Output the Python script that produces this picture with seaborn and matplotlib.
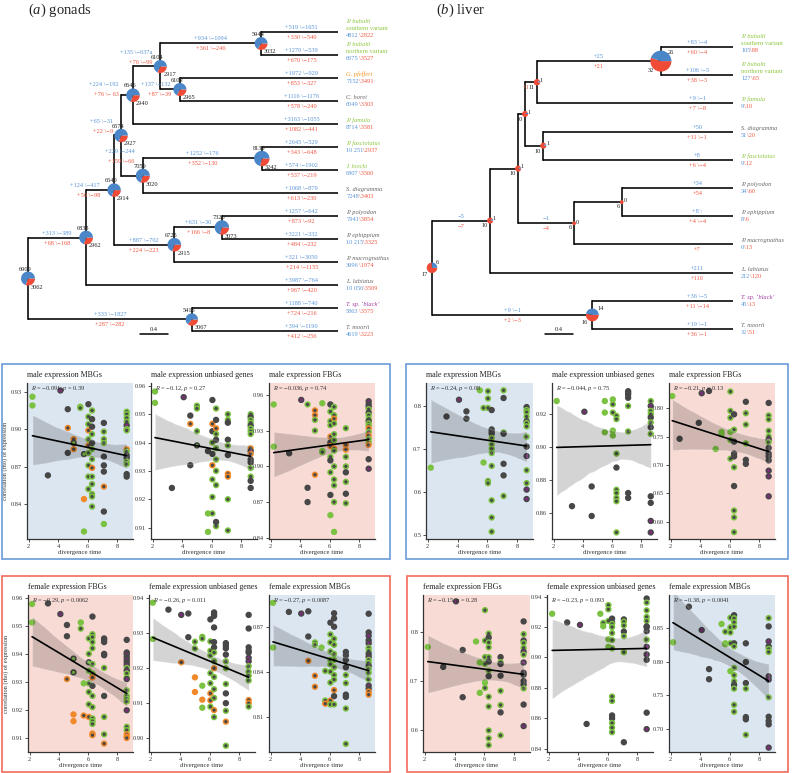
import re

import matplotlib
matplotlib.use("Agg")
import matplotlib.pyplot as plt
import pandas as pd
import seaborn as sns
from matplotlib import patches, transforms

W, H = 793, 773

# ---------------- tree data ----------------
GONAD_TIPS = ["bubS", "bubN", "pfef", "horei", "famula", "fasc", "loocki",
              "sdiag", "poly", "eph", "macro", "lab", "tblack", "tmoorii"]
GONAD_PARENT = {
    "n1": "root", "n2": "n1", "n3": "n2", "n4": "n3", "n5": "n4", "n6": "n5",
    "n7": "n5", "n8": "n3", "n9": "n8", "n10": "n2", "n11": "n10", "n12": "root",
    "bubS": "n6", "bubN": "n6", "pfef": "n7", "horei": "n7", "famula": "n4",
    "fasc": "n9", "loocki": "n9", "sdiag": "n8", "poly": "n11", "eph": "n11",
    "macro": "n10", "lab": "n1", "tblack": "n12", "tmoorii": "n12",
}
GONAD_DEPTH = {"root": 0.0, "n1": 0.83, "n2": 1.23, "n3": 1.33, "n4": 1.50,
               "n5": 1.89, "n6": 3.33, "n7": 2.17, "n8": 1.64, "n9": 3.34,
               "n10": 2.09, "n11": 2.77, "n12": 2.34}
GONAD_BLUE = {
    "n1": "+313 \\−389", "n2": "+124 \\−417", "n3": "+65 \\−31", "n4": "+224 \\−192",
    "n5": "+135 \\−637a", "n6": "+934 \\−1094", "n7": "+137 \\−132", "n8": "+229 \\−244",
    "n9": "+1252 \\−176", "n10": "+887 \\−702", "n11": "+631 \\−30", "n12": "+333 \\−1827",
    "bubS": "+519 \\−1651", "bubN": "+1270 \\−539", "pfef": "+1972 \\−929",
    "horei": "+1116 \\−1176", "famula": "+3163 \\−1055", "fasc": "+2645 \\−529",
    "loocki": "+574 \\−1902", "sdiag": "+1068 \\−879", "poly": "+1257 \\−642",
    "eph": "+3221 \\−332", "macro": "+321 \\−3050", "lab": "+3987 \\−764",
    "tblack": "+1188 \\−740", "tmoorii": "+394 \\−1190",
}
GONAD_RED = {
    "n1": "+68 \\−168", "n2": "+50 \\−98", "n3": "+22 \\−9", "n4": "+76 \\− 63",
    "n5": "+76 \\−99", "n6": "+361 \\−246", "n7": "+87 \\−39", "n8": "+159 \\−66",
    "n9": "+352 \\−130", "n10": "+224 \\−223", "n11": "+166 \\−8", "n12": "+287 \\−282",
    "bubS": "+330 \\−540", "bubN": "+670 \\−175", "pfef": "+853 \\−327",
    "horei": "+578 \\−240", "famula": "+1082 \\−441", "fasc": "+343 \\−648",
    "loocki": "+537 \\−219", "sdiag": "+613 \\−230", "poly": "+873 \\−92",
    "eph": "+484 \\−232", "macro": "+214 \\−1155", "lab": "+967 \\−420",
    "tblack": "+724 \\−216", "tmoorii": "+412 \\−256",
}
GONAD_NODE_COUNTS = {
    "root": (6909, 3062), "n1": (6833, 2962), "n2": (6540, 2914), "n3": (6574, 2927),
    "n4": (6646, 2940), "n5": (6104, 2917), "n6": (5944, 3032), "n7": (6109, 2965),
    "n8": (7059, 3020), "n9": (8135, 3242), "n10": (6725, 2915), "n11": (7326, 3073),
    "n12": (5415, 3067),
}
GONAD_TIP_COUNTS = {
    "bubS": ("4812", "2822"), "bubN": ("6675", "3527"), "pfef": ("7152", "3491"),
    "horei": ("6049", "3303"), "famula": ("8714", "3581"), "fasc": ("10 251", "2937"),
    "loocki": ("6807", "3560"), "sdiag": ("7248", "3403"), "poly": ("7941", "3854"),
    "eph": ("10 215", "3325"), "macro": ("3996", "1974"), "lab": ("10 056", "3509"),
    "tblack": ("5863", "3575"), "tmoorii": ("4619", "3223"),
}
# label nudges (pixels) for crowded short branches
GONAD_LABEL_SHIFT = {"n2": (-14, 0), "n3": (-8, 9), "n4": (-14, 6), "n5": (-8, 9),
                     "n7": (-9, 0), "n8": (-8, 20)}

LIVER_TIPS = ["bubS", "bubN", "famula", "sdiag", "fasc", "poly", "eph",
              "macro", "lab", "tblack", "tmoorii"]
LIVER_PARENT = {
    "m1": "root", "m2": "m1", "m3": "m2", "m4": "m3", "m5": "m4", "m6": "m3",
    "m7": "m2", "m8": "m7", "m9": "root",
    "bubS": "m5", "bubN": "m5", "famula": "m4", "sdiag": "m6", "fasc": "m6",
    "poly": "m8", "eph": "m8", "macro": "m7", "lab": "m1", "tblack": "m9", "tmoorii": "m9",
}
LIVER_DEPTH = {"root": 0.0, "m1": 0.83, "m2": 1.23, "m3": 1.33, "m4": 1.50,
               "m5": 3.27, "m6": 1.59, "m7": 2.03, "m8": 2.71, "m9": 2.29}
LIVER_BLUE = {
    "m1": "−5", "m5": "+25", "m7": "−1", "m9": "+9 \\−1",
    "bubS": "+83 \\−4", "bubN": "+106 \\−5", "famula": "+9 \\−1", "sdiag": "+50",
    "fasc": "+8", "poly": "+34", "eph": "+8 \\", "lab": "+211",
    "tblack": "+36 \\−5", "tmoorii": "+19 \\−1",
}
LIVER_RED = {
    "m1": "−7", "m4": "+1", "m5": "+21", "m7": "−4", "m9": "+2 \\−3",
    "bubS": "+60 \\−4", "bubN": "+38 \\−3", "famula": "+7 \\−8", "sdiag": "+11 \\−1",
    "fasc": "+6 \\−4", "poly": "+54", "eph": "+4 \\−4", "macro": "+7", "lab": "+110",
    "tblack": "+11 \\−14", "tmoorii": "+36 \\−1",
}
LIVER_NODE_COUNTS = {
    "root": (6, 17), "m1": (1, 10), "m2": (1, 10), "m3": (1, 10), "m4": (1, 11),
    "m5": (26, 32), "m6": (1, 10), "m7": (0, 6), "m8": (0, 6), "m9": (14, 16),
}
LIVER_TIP_COUNTS = {
    "bubS": ("105", "88"), "bubN": ("127", "65"), "famula": ("9", "10"),
    "sdiag": ("51", "20"), "fasc": ("9", "12"), "poly": ("34", "60"), "eph": ("8", "6"),
    "macro": ("0", "13"), "lab": ("212", "120"), "tblack": ("45", "13"),
    "tmoorii": ("32", "51"),
}
LIVER_LABEL_SHIFT = {}

SPECIES = {
    "bubS": ("P. bubalti", "southern variant", "green"),
    "bubN": ("P. bubalti", "northern variant", "green"),
    "pfef": ("G. pfefferi", "", "orange"),
    "horei": ("C. horei", "", "grey"),
    "famula": ("P. famula", "", "green"),
    "fasc": ("P. fasciolatus", "", "green"),
    "loocki": ("I. loocki", "", "green"),
    "sdiag": ("S. diagramma", "", "grey"),
    "poly": ("P. polyodon", "", "grey"),
    "eph": ("P. ephippium", "", "grey"),
    "macro": ("P. macrognathus", "", "grey"),
    "lab": ("L. labiatus", "", "grey"),
    "tblack": ("T. sp. ‘black’", "", "purple"),
    "tmoorii": ("T. moorii", "", "grey"),
}

# ---------------- scatter data: "x: y+code ..." ----------------
GM_MBG = """
2.25: .926g .919g; 3.3: .863k; 4.15: .931p; 4.65: .916k .901O .881k;
5.05: .892O .889K .884O; 5.5: .918G .917G; 5.75: .880K .844o .818g;
6.05: .920k .910G .904G .899O .892G .887O .881G .871G .862G .852G;
6.3: .915G .908k .902k .896G .889k .884G .876G .869O .862G .856G .848G .846G .838G;
7.1: .905k .898G .892G .889G .878k .871k .866k .854O .834k .824g;
8.65: .914G .912G .909G .906G .903p .900P .899G .884O .882G .879k .877k .874G .872G .864k .862k
"""
GM_UNB = """
2.15: .958g .954g; 3.3: .924k; 4.1: .956p; 4.55: .9495k .9466O .932k;
5.0: .953G .952G .944G .939K; 5.75: .937k .9085g .915g;
6.05: .955k .9466O .944k .940G .936k .932O .927G .9208G .915G;
6.3: .952G .948k .945O .943G .941k .938G .934G .930G .925G .9105G .912k;
7.1: .950G .948G .947k .941k .939G .9356k .929O .928O .920G .909G;
8.65: .950G .949k .948G .947G .946k .945G .944G .943G .938O .937p .936O .934k .933k .931G .928G .9265k .924k
"""
GM_FBG = """
2.2: .952g .9166g; 3.25: .911k; 4.07: .9558p; 4.5: .952G .882k .870k;
5.0: .947O .943O .939G .930G .893O; 5.5: .953g .913G .912G;
6.05: .952k .946G .938G .9345G .925O .92k .917O .908G .905k .895G .876k .859g;
6.3: .950G .943G .940O .936G .927G .922G .915O .913G .900G .889G .884G .870G .845g;
7.1: .932G .918O .914O .908G .900G .895k .887G .877k .869G;
8.65: .9547p .952k .950p .948G .945k .943G .940G .938k .936G .934G .932O .929G .926O .923G .920G .918O .906k .898p
"""
LM_MBG = """
2.2: .656g; 3.26: .775k; 4.1: .814p; 4.6: .787k .770k; 5.5: .836g; 5.75: .795G .668g;
6.05: .834G .817G .795G .625G .62G;
6.3: .79k .745k .74k .735k .725G .71G .70G .69G .66G .58G .54G .507G;
7.1: .836G .818k .738G .735k .665k .638k .59G;
8.65: .797k .790G .785G .775G .764p .76G .752G .728G .705k .683p .65G .62G .605p .583p
"""
LM_UNB = """
2.2: .928g; 3.25: .864k; 4.1: .9215p; 4.6: .876k .858k; 5.5: .928g .921g .909g;
6.05: .929g .926G .921G .910g .907g;
6.3: .919G .917G .896G .8875k .874G .872G .869G .867G .848G;
7.1: .934k .933k .932k .930k .925G .9095G .872k .869k;
8.65: .928G .925p .922G .920G .918k .915G .912k .908G .870k .866k .855p .848p
"""
LM_FBG = """
2.1: .821g; 2.6: .746k; 3.9: .774k; 4.1: .826p; 4.6: .83k; 5.05: .728g; 5.45: .758g .754g;
6.05: .829G .795G .783G .758g .744G .711G;
6.3: .789k .762G .741k .72k .715k .696G .663k .62G .608G .582G;
7.1: .811k .791G .771G .738G .709k .702k;
8.65: .809k .787G .78G .76G .75G .745p .74G .73k .72k .715k .708k .69p .68p .645p
"""
GF_FBG = """
2.16: .9578g .9512g; 3.25: .958k; 4.1: .9542p; 4.55: .9503k .9463k .931O;
5.0: .9383K .9334K .9184o .916o; 5.5: .9512g .949G; 5.7: .9295g .918O;
6.05: .9455G .940G .937K .934G .9295G .9264G .922G .9175O;
6.3: .9533k .947G .946G .9442G .942G .9364G .933G .9316O .9286k .925G .921G .917G .916G .915G .9116O .911O;
7.1: .9455k .945k .9442k .940k .9395k .935G .925k .9175G .9113G .908O;
8.65: .945k .9405k .940p .939k .938p .937k .936p .935G .934p .933G .9315G .931p .927G .925G .924G .923G .9199p .914G .9128G .9113O .9105O .910O
"""
GF_UNB = """
2.14: .9388g .9284g; 3.2: .9368k; 4.07: .9353p .9217O; 4.55: .9357k .9289k;
5.0: .9276G .9257G .9174o .9132o; 5.5: .929G .9285G .915g .911o .9087g;
6.05: .934k .9277G .925G .9237G .9186G .9157G .9128O .9108O .909G;
6.3: .936k .9355k .935k .9317k .9275k .926k .9245G .922G .920O .9175G .914G .9115G .908O .906G;
7.1: .9272k .9265k .9257k .9239k .922G .920G .9155G .9128k .910k .9078G .9047O .8978G;
8.65: .9353k .9314k .926k .925k .9245k .923p .922p .9206G .919G .9179G .9165G .9109O .910O .909G
"""
GF_MBG = """
2.15: .8858g .8562g; 3.23: .8798k; 4.07: .8787p; 4.55: .8802k .8635k .8474O;
5.0: .8596G .858G .8375O .8302O; 5.45: .8562g; 5.7: .8407G .8211G .8190O;
6.05: .8727k .8649G .8596G .8536G .8480G .8451G .8402G .8330G .8211O .8185G;
6.3: .8789k .8755k .8700k .8620G .8580G .8520G .8480G .8430G .8380G .8350G .8280O .8240k .8185G;
7.1: .8533k .8510k .8480k .8431k .8380G .8326G .825k .8235k .8158G .7924G;
8.65: .8786k .8662k .8640p .8610k .8590p .8560G .8540G .8520k .8500p .8480G .8460G .8440k .8420G .8395G .8350G .8310p .8290k .8270O .8250O
"""
LF_FBG = """
2.2: .7697g; 3.24: .729k; 4.1: .863p; 4.55: .7636k .667k; 5.45: .781g; 5.7: .738g .676g;
6.05: .845G .7826G .749G .735G .697g .686G;
6.3: .797G .789k .779G .769G .749G .74k .721G .71k .668G .648G .599G .583G .569G;
7.1: .749k .7386G .735k .711k .68G .651G .636k .589G;
8.65: .822k .796G .783k .778G .768G .76p .754G .738p .717p .713k .70k .693k .685G .652k .608p
"""
LF_UNB = """
2.23: .9287g; 3.25: .923k; 4.12: .9214p; 4.57: .8564k; 5.5: .9287g; 5.7: .9227G .9205g;
6.05: .9344G .9316G .9240G .912g .907g;
6.3: .9255k .923k .922G .920G .916G .9115G .906G .8744G .8715G .862k .86k .857G .854G .851G;
7.1: .925k .9235G .921G .917k .914G .9035G .8444k;
8.65: .9387k .9360G .9309G .9266G .924G .9204k .920k .9173k .9117G .907p .902p .8985k .8638k .853p
"""
LF_MBG = """
2.15: .8288g; 3.23: .8816k; 4.1: .847p; 4.6: .789k .774k; 5.45: .856g; 5.7: .8445G .8273g .826g;
6.05: .8653G .851G .8433G .8273G .786g;
6.3: .869k .8645G .8585G .852G .8273k .8228G .7908G .780G .771G .7656k .760G .736G .7258G;
7.1: .8273k .7995k .7683k .760G .7178k .7145k .6915G;
8.65: .8648G .8524k .8302p .8228k .819G .8144G .7783p .7734p .747G .7183k .7119k .707k .6725p
"""

MALE_TITLES = ["male expression MBGs", "male expression unbiased genes", "male expression FBGs"]
FEMALE_TITLES = ["female expression FBGs", "female expression unbiased genes", "female expression MBGs"]
GM_R = ["−0.091, $p$ = 0.39", "−0.12, $p$ = 0.27", "−0.036, $p$ = 0.74"]
LM_R = ["−0.24, $p$ = 0.08", "−0.044, $p$ = 0.75", "−0.21, $p$ = 0.13"]
GF_R = ["−0.29, $p$ = 0.0062", "−0.26, $p$ = 0.011", "−0.27, $p$ = 0.0087"]
LF_R = ["−0.15, $p$ = 0.28", "−0.23, $p$ = 0.093", "−0.38, $p$ = 0.0041"]

GM_TICKS = [[0.84, 0.87, 0.90, 0.93], [0.91, 0.92, 0.93, 0.94, 0.95, 0.96], [0.84, 0.87, 0.90, 0.93, 0.96]]
GM_LIM = [(0.812, 0.937), (0.906, 0.961), (0.839, 0.970)]
LM_TICKS = [[0.5, 0.6, 0.7, 0.8], [0.86, 0.88, 0.90, 0.92], [0.60, 0.65, 0.70, 0.75, 0.80]]
LM_LIM = [(0.49, 0.853), (0.844, 0.939), (0.57, 0.844)]
GF_TICKS = [[0.91, 0.92, 0.93, 0.94, 0.95, 0.96], [0.90, 0.91, 0.92, 0.93, 0.94], [0.81, 0.84, 0.87]]
GF_LIM = [(0.905, 0.961), (0.896, 0.941), (0.787, 0.891)]
LF_TICKS = [[0.6, 0.7, 0.8], [0.84, 0.86, 0.88, 0.90, 0.92, 0.94], [0.70, 0.75, 0.80, 0.85]]
LF_LIM = [(0.555, 0.876), (0.838, 0.941), (0.666, 0.899)]

# ---------------- style ----------------
COL = {"g": "#7cc242", "k": "#474747", "o": "#f0892a", "p": "#7a2d78"}
FACE = {"g": "g", "k": "k", "G": "k", "o": "o", "O": "k", "p": "p", "P": "p", "K": "g"}
EDGE = {"g": "g", "k": "k", "G": "g", "o": "o", "O": "o", "p": "k", "P": "g", "K": "k"}
SHADE = {"blue": "#dce6f1", "white": "white", "red": "#f9dbd6"}
TXT_BLUE, TXT_RED = "#5b96d8", "#f15a45"
PIE_BLUE, PIE_RED = "#4a86c8", "#ef4b37"
SP_COL = {"green": "#8dc63f", "orange": "#f7941d", "grey": "#666666", "purple": "#a03ca0"}
FS = 4.6

sns.set_theme(style="ticks")
plt.rcParams["font.family"] = ["Liberation Serif", "DejaVu Serif"]
plt.rcParams["mathtext.fontset"] = "custom"
plt.rcParams["mathtext.rm"] = "Liberation Serif"
plt.rcParams["mathtext.it"] = "Liberation Serif:italic"

fig = plt.figure(figsize=(W / 100, H / 100), dpi=100)


def px_axes(l, t, r, b):
    return fig.add_axes([l / W, 1 - b / H, (r - l) / W, (b - t) / H])


def parse(s):
    rows = []
    for col in s.split(";"):
        if not col.strip():
            continue
        x, ys = col.split(":")
        for v, c in re.findall(r"([\d.]+)([a-zA-Z])", ys):
            rows.append((float(x), float(v), FACE[c], EDGE[c]))
    return pd.DataFrame(rows, columns=["x", "y", "fill", "edge"])


def draw_tree(ax, tips, parent, depth, tip_depth, blue, red, node_counts, tip_counts,
              pie_c, tip_lab_d, gonad_style, shifts):
    depth = dict(depth)
    for t in tips:
        depth[t] = tip_depth
    ypos = {t: i for i, t in enumerate(tips)}
    children = {}
    for c, p in parent.items():
        children.setdefault(p, []).append(c)

    def gety(n):
        if n not in ypos:
            ys = [gety(c) for c in children[n]]
            ypos[n] = (min(ys) + max(ys)) / 2
        return ypos[n]

    gety("root")
    lw = 1.15
    for c, p in parent.items():
        ax.plot([depth[p], depth[c]], [ypos[c]] * 2, color="black", lw=lw, solid_capstyle="butt")
    for n, ch in children.items():
        ys = [ypos[c] for c in ch]
        ax.plot([depth[n]] * 2, [min(ys), max(ys)], color="black", lw=lw, solid_capstyle="projecting")
    for c, p in parent.items():
        lift = 0
        if c in tips:
            xl, ha, dx = tip_lab_d, "center", 0
        elif depth[c] - depth[p] > 0.45:
            xl, ha, dx = (depth[c] + depth[p]) / 2, "center", 0
        else:
            xl, ha, dx = depth[c], "right", -8
        if c in shifts:
            dx, lift = shifts[c]
        if c in blue:
            ax.annotate(blue[c], (xl, ypos[c]), xytext=(dx, 2 + lift), textcoords="offset pixels",
                        ha=ha, va="bottom", color=TXT_BLUE, fontsize=FS)
        if c in red:
            ax.annotate(red[c], (xl, ypos[c]), xytext=(dx, -3 + lift), textcoords="offset pixels",
                        ha=ha, va="top", color=TXT_RED, fontsize=FS)
    for n, (b, r) in node_counts.items():
        x, y = depth[n], ypos[n]
        tot = b + r
        rad = pie_c * tot ** 0.75
        tr = fig.dpi_scale_trans + transforms.ScaledTranslation(x, y, ax.transData)
        fr = r / tot
        R = rad / fig.dpi
        if r:
            ax.add_patch(patches.Wedge((0, 0), R, -360 * fr, 0, transform=tr, color=PIE_RED, lw=0, zorder=4))
        if b:
            ax.add_patch(patches.Wedge((0, 0), R, 0, 360 - 360 * fr, transform=tr, color=PIE_BLUE, lw=0, zorder=4))
        if gonad_style:
            ax.annotate(str(b), (x, y), xytext=(-3, rad), textcoords="offset pixels",
                        ha="center", va="bottom", fontsize=FS, color="#222")
            ax.annotate(str(r), (x, y), xytext=(3, -rad + 1), textcoords="offset pixels",
                        ha="left", va="top", fontsize=FS, color="#222")
        else:
            ax.annotate(str(b), (x, y), xytext=(rad * 0.6 + 1, rad * 0.6), textcoords="offset pixels",
                        ha="left", va="bottom" if rad > 4 else "center", fontsize=FS, color="#222")
            ax.annotate(str(r), (x, y), xytext=(-rad * 0.6 - 1, -rad * 0.6 - 1), textcoords="offset pixels",
                        ha="right", va="top", fontsize=FS, color="#222")
    for t in tips:
        name, var, cname = SPECIES[t]
        c = SP_COL[cname]
        x, y = tip_depth, ypos[t]
        if var:
            ax.annotate(name, (x, y), xytext=(8, 8), textcoords="offset pixels", ha="left", va="bottom",
                        fontsize=FS, color=c, style="italic")
            ax.annotate(var, (x, y), xytext=(8, 1), textcoords="offset pixels", ha="left", va="bottom",
                        fontsize=FS, color=c)
        else:
            ax.annotate(name, (x, y), xytext=(8, 1), textcoords="offset pixels", ha="left", va="bottom",
                        fontsize=FS, color=c, style="italic")
        b, r = tip_counts[t]
        t1 = ax.annotate(b, (x, y), xytext=(8, -1), textcoords="offset pixels", ha="left", va="top",
                         fontsize=FS, color=TXT_BLUE)
        ax.annotate("\\" + r, xy=(1, 0), xycoords=t1, ha="left", va="bottom", fontsize=FS, color=TXT_RED)
    ax.set_axis_off()


def scale_bar(ax, x0, y):
    ax.plot([x0, x0 + 0.4], [y, y], color="black", lw=1.1)
    ax.annotate("0.4", (x0 + 0.2, y), xytext=(0, 2), textcoords="offset pixels",
                ha="center", va="bottom", fontsize=FS, color="#222")


# gonads tree
ax_a = px_axes(0, 0, 400, 345)
ax_a.set_xlim(-0.4, 5.314)
ax_a.set_ylim(13.609, -1.391)
draw_tree(ax_a, GONAD_TIPS, GONAD_PARENT, GONAD_DEPTH, 4.43, GONAD_BLUE, GONAD_RED,
          GONAD_NODE_COUNTS, GONAD_TIP_COUNTS, 0.007, 3.91, True, GONAD_LABEL_SHIFT)
scale_bar(ax_a, 1.6, 13.13)

# liver tree
ax_b = px_axes(400, 0, 793, 345)
ax_b.set_xlim(-0.457, 5.157)
ax_b.set_ylim(10.567, -1.667)
draw_tree(ax_b, LIVER_TIPS, LIVER_PARENT, LIVER_DEPTH, 4.30, LIVER_BLUE, LIVER_RED,
          LIVER_NODE_COUNTS, LIVER_TIP_COUNTS, 0.5, 3.79, False, LIVER_LABEL_SHIFT)
scale_bar(ax_b, 1.61, 10.18)

fig.text(28 / W, 1 - 10 / H, r"($\mathit{a}$) gonads", fontsize=10.5, va="center", ha="left")
fig.text(436 / W, 1 - 10 / H, r"($\mathit{b}$) liver", fontsize=10.5, va="center", ha="left")


def draw_panel(ax, data, title, shade, ticks, lim, rtext, ylabel):
    df = parse(data)
    ax.set_facecolor(SHADE[shade])
    sns.scatterplot(data=df, x="x", y="y", hue="fill", palette=COL,
                    edgecolor=df["edge"].map(COL).tolist(), s=12, linewidth=1.1,
                    legend=False, ax=ax, zorder=2)
    sns.regplot(data=df, x="x", y="y", scatter=False, ax=ax, color="black",
                line_kws=dict(lw=1.2, zorder=4), ci=95, truncate=True)
    for coll in ax.collections[1:]:
        coll.set_alpha(0.17)
        coll.set_zorder(3)
    ax.set_xlim(1.88, 9.08)
    ax.set_ylim(*lim)
    ax.set_xticks([2, 4, 6, 8])
    ax.set_yticks(ticks)
    dec = 1 if all(round(t * 10) == t * 10 for t in ticks) else 2
    ax.set_yticklabels([f"{t:.{dec}f}" for t in ticks])
    ax.tick_params(labelsize=FS, length=2, width=0.6, pad=1.5, colors="#333")
    for sp in ["top", "right"]:
        ax.spines[sp].set_visible(False)
    for sp in ["left", "bottom"]:
        ax.spines[sp].set_linewidth(0.9)
        ax.spines[sp].set_color("#333")
    ax.set_xlabel("divergence time", fontsize=FS + 0.3, labelpad=1, color="#333")
    ax.set_ylabel("correlation (rho) of expression" if ylabel else "", fontsize=FS, labelpad=2, color="#333")
    ax.set_title(title, loc="left", fontsize=5.8, pad=4, color="#222")
    ax.text(0.04, 0.995, "$R$ = " + rtext, transform=ax.transAxes, va="top", ha="left",
            fontsize=FS, color="#333")


GROUPS = [
    ([(27, 383, 133, 539), (151, 383, 257, 539), (269, 383, 375, 539)],
     [GM_MBG, GM_UNB, GM_FBG], MALE_TITLES, ["blue", "white", "red"], GM_TICKS, GM_LIM, GM_R, True),
    ([(426, 383, 533, 539), (552, 383, 657, 539), (669, 383, 775, 539)],
     [LM_MBG, LM_UNB, LM_FBG], MALE_TITLES, ["blue", "white", "red"], LM_TICKS, LM_LIM, LM_R, False),
    ([(28, 595, 133, 752), (149, 595, 255, 752), (269, 595, 375, 752)],
     [GF_FBG, GF_UNB, GF_MBG], FEMALE_TITLES, ["red", "white", "blue"], GF_TICKS, GF_LIM, GF_R, True),
    ([(423, 595, 530, 752), (547, 595, 653, 752), (669, 595, 775, 752)],
     [LF_FBG, LF_UNB, LF_MBG], FEMALE_TITLES, ["red", "white", "blue"], LF_TICKS, LF_LIM, LF_R, False),
]
for rects, datas, titles, shades, ticks, lims, rtexts, ylab in GROUPS:
    for i in range(3):
        ax = px_axes(*rects[i])
        draw_panel(ax, datas[i], titles[i], shades[i], ticks[i], lims[i], rtexts[i], ylab and i == 0)

BOXES = [((2, 364, 390, 559), "#6a9bd8"), ((406, 364, 788, 559), "#6a9bd8"),
         ((2, 576, 390, 772), "#f26b5b"), ((407, 576, 788, 772), "#f26b5b")]
for (l, t, r, b), c in BOXES:
    fig.patches.append(patches.Rectangle((l / W, 1 - b / H), (r - l) / W, (b - t) / H,
                                         transform=fig.transFigure, fill=False, edgecolor=c, lw=1.2))

fig.savefig("out.png", dpi=100)
